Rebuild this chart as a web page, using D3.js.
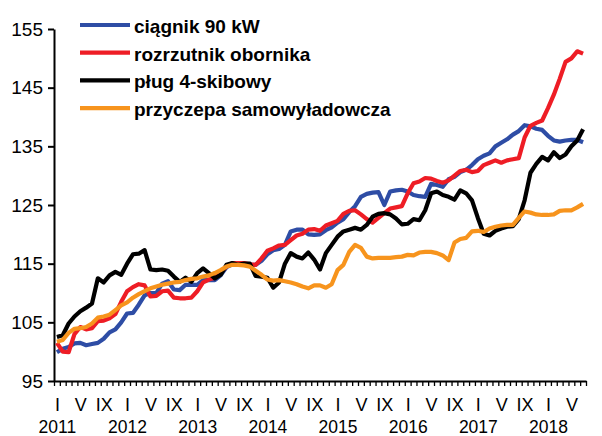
<!DOCTYPE html>
<html>
<head>
<meta charset="utf-8">
<script src="https://cdn.jsdelivr.net/npm/d3@7"></script>
<style>
  body { margin: 0; background: #fff; }
  svg { display: block; }
  text { font-family: "Liberation Sans", Arial, sans-serif; fill: #000; }
</style>
</head>
<body>
<svg id="chart" width="602" height="436"></svg>
<script>
// Monthly price indices, Jan 2011 – Jul 2018
const yearLabels = ["2011", "2012", "2013", "2014", "2015", "2016", "2017", "2018"];
const romanMonths = ["I", "V", "IX"];          // January, May, September
const romanMonthIndex = [0, 4, 8];
const yTickValues = [95, 105, 115, 125, 135, 145, 155];

const seriesNames = ["ciągnik 90 kW", "rozrzutnik obornika", "pług 4-skibowy", "przyczepa samowyładowcza"];
const seriesColors = ["#2E4DA5", "#EE1D25", "#000000", "#F7941D"];

const ciagnik = [
  99.9, 100.5, 100.8, 101.4, 101.5, 101.1, 101.3, 101.5, 102.2, 103.3, 103.8, 105.0,
  106.5, 106.6, 108.0, 109.6, 110.0, 110.0, 111.6, 112.0, 110.6, 110.5, 111.4, 111.4,
  111.4, 112.2, 112.2, 112.2, 113.0, 114.4, 114.9, 115.1, 115.0, 114.8, 114.8, 115.5,
  116.6, 117.3, 117.5, 118.2, 120.5, 120.8, 120.8, 120.0, 119.9, 120.0, 120.7, 121.2,
  122.0, 122.6, 123.8, 124.8, 126.4, 126.9, 127.1, 127.2, 125.0, 127.3, 127.5, 127.6,
  127.3, 126.7, 126.5, 126.4, 128.6, 128.4, 128.1, 129.4, 129.8, 130.6, 131.0, 131.8,
  132.8, 133.4, 133.8, 135.0, 135.6, 136.2, 137.0, 137.6, 138.6, 138.4, 138.0, 137.8,
  136.8, 136.0, 135.8, 136.0, 136.1, 136.1, 135.7
];
const rozrzutnik = [
  101.5, 100.0, 99.9, 103.0, 104.2, 103.8, 104.0, 105.2, 105.3, 105.7, 106.4, 108.5,
  110.3, 111.0, 111.5, 111.3, 109.4, 109.5, 110.3, 110.4, 109.2, 109.1, 109.1, 109.2,
  110.3, 111.8, 112.3, 112.6, 113.5, 114.5, 115.1, 115.1, 115.1, 114.9, 114.8, 115.9,
  117.2, 117.6, 118.1, 118.2, 119.0, 119.8, 120.1, 120.8, 120.9, 120.6, 121.5, 121.9,
  122.3, 123.5, 124.0, 124.1, 123.4, 122.6, 122.0, 122.8, 123.6, 124.4, 124.6, 124.8,
  127.0, 128.7, 129.0, 129.6, 129.5, 129.1, 128.8, 129.2, 130.0, 130.8, 131.0, 130.6,
  130.8, 131.8, 132.2, 132.6, 132.2, 132.6, 132.8, 133.0, 136.5, 138.5, 139.0, 139.4,
  141.5, 143.8, 146.5, 149.4, 150.0, 151.2, 150.8
];
const plug = [
  102.5, 102.8, 104.8, 106.0, 106.9, 107.5, 108.2, 112.5, 111.8, 113.0, 113.6, 113.1,
  115.0, 116.6, 116.7, 117.3, 114.0, 113.9, 114.0, 113.8, 112.8, 111.9, 112.6, 111.9,
  113.4, 114.2, 113.4, 112.5, 113.1, 114.8, 115.1, 114.8, 115.0, 115.0, 112.9, 112.8,
  112.6, 110.9, 111.8, 115.0, 116.8, 116.2, 115.9, 116.9, 115.7, 114.0, 116.8, 118.2,
  119.6, 120.5, 120.8, 121.1, 120.8, 121.6, 123.0, 123.5, 123.6, 123.4, 122.7, 121.7,
  121.8, 122.6, 122.4, 124.1, 127.0, 127.3, 126.7, 126.4, 125.9, 127.5, 127.0, 125.8,
  122.8, 120.1, 119.8, 120.6, 121.0, 121.3, 121.4, 122.6, 125.8, 130.5, 132.0, 133.2,
  132.6, 134.0, 133.0, 133.6, 135.0, 136.0, 137.9
];
const przyczepa = [
  101.7, 102.0, 103.2, 103.9, 104.0, 104.2, 104.8, 105.8, 106.0, 106.3, 107.1, 107.9,
  108.4, 109.2, 109.8, 110.3, 110.8, 111.1, 111.4, 111.6, 111.8, 111.9, 112.2, 112.4,
  112.5, 112.8, 113.0, 113.4, 113.9, 114.5, 114.8, 114.8, 114.7, 114.5, 113.8, 113.1,
  112.3, 112.1, 112.2, 112.0, 111.8, 111.5, 111.1, 110.8, 111.3, 111.3, 110.9, 111.5,
  113.9, 114.8, 117.0, 118.2, 117.7, 116.2, 115.9, 116.0, 116.0, 116.0, 116.1, 116.2,
  116.5, 116.4, 116.9, 117.0, 117.0, 116.8, 116.4, 115.6, 118.6, 119.2, 119.4, 120.5,
  120.6, 120.4, 121.0, 121.3, 121.5, 121.6, 121.6, 122.8, 123.9, 123.7, 123.4, 123.3,
  123.3, 123.4, 124.0, 124.1, 124.1, 124.6, 125.2
];

const seriesValues = [ciagnik, rozrzutnik, plug, przyczepa];
const nMonths = ciagnik.length;

const svg = d3.select("#chart");

// Month index scale: each month occupies one slot, points sit in the middle of it
const x = d3.scaleLinear().domain([0, nMonths]).range([54, 586]);
const y = d3.scaleLinear().domain([95, 155]).range([381, 29]);

// Y axis
const yAxis = svg.append("g")
  .attr("transform", "translate(54,0)")
  .call(d3.axisLeft(y).tickValues(yTickValues).tickSize(6).tickSizeOuter(0).tickPadding(5));
yAxis.select(".domain").attr("stroke", "#000").attr("stroke-width", 2);
yAxis.selectAll(".tick line").attr("stroke", "#000").attr("stroke-width", 2);
yAxis.selectAll(".tick text").attr("font-size", 19).attr("font-family", null);

// X axis: a small tick between every month
const xAxis = svg.append("g")
  .attr("transform", "translate(0,381)")
  .call(d3.axisBottom(x).tickValues(d3.range(0, nMonths + 1)).tickSize(5).tickSizeOuter(0).tickFormat(""));
xAxis.select(".domain").attr("stroke", "#000").attr("stroke-width", 2);
xAxis.selectAll(".tick line").attr("stroke", "#000").attr("stroke-width", 1.3);

// Month labels (I, V, IX) under each slot
const monthTicks = d3.range(nMonths).filter(i => romanMonthIndex.includes(i % 12));
const monthAxis = svg.append("g")
  .attr("transform", "translate(0,381)")
  .call(d3.axisBottom(x).tickValues(monthTicks.map(i => i + 0.5)).tickSize(0)
    .tickFormat(v => romanMonths[romanMonthIndex.indexOf(Math.floor(v) % 12)]));
monthAxis.select(".domain").remove();
monthAxis.selectAll(".tick text").attr("font-size", 18).attr("font-family", null)
  .attr("y", 30).attr("dy", null);

// Year labels under each January
const yearAxis = svg.append("g")
  .attr("transform", "translate(0,381)")
  .call(d3.axisBottom(x).tickValues(yearLabels.map((_, k) => k * 12 + 0.5)).tickSize(0)
    .tickFormat(v => yearLabels[Math.floor(v / 12)]));
yearAxis.select(".domain").remove();
yearAxis.selectAll(".tick text").attr("font-size", 17.5).attr("font-family", null)
  .attr("y", 51.5).attr("dy", null);

// Series lines
const line = d3.line()
  .x((d, i) => x(i + 0.5))
  .y(d => y(d))
  .curve(d3.curveLinear);

svg.append("g").selectAll("path")
  .data(seriesValues)
  .join("path")
  .attr("d", line)
  .attr("fill", "none")
  .attr("stroke", (d, i) => seriesColors[i])
  .attr("stroke-width", 4.2)
  .attr("stroke-linejoin", "round")
  .attr("stroke-linecap", "butt");

// Legend
const legend = svg.append("g");
const legendRows = legend.selectAll("g")
  .data(seriesNames)
  .join("g")
  .attr("transform", (d, i) => `translate(80,${25 + i * 27.7})`);
legendRows.append("line")
  .attr("x1", 0).attr("x2", 50)
  .attr("stroke", (d, i) => seriesColors[i])
  .attr("stroke-width", 4.2);
legendRows.append("text")
  .attr("x", 54).attr("y", 8)
  .attr("font-size", 19).attr("font-weight", "bold")
  .text(d => d);
</script>
</body>
</html>
